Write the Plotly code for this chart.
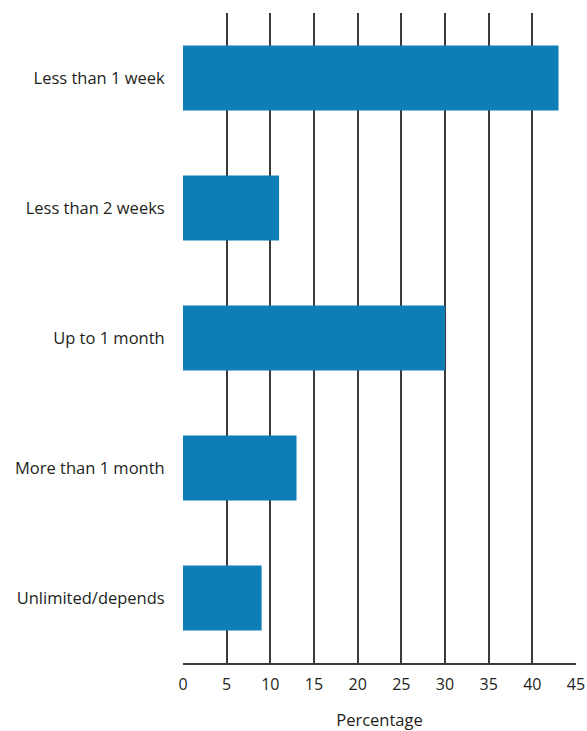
import plotly.graph_objects as go

categories = ["Less than 1 week", "Less than 2 weeks", "Up to 1 month", "More than 1 month", "Unlimited/depends"]
values = [43, 11, 30, 13, 9]
tick_vals = [0, 5, 10, 15, 20, 25, 30, 35, 40, 45]

fig = go.Figure(go.Bar(
    y=categories, x=values, orientation="h",
    marker=dict(color="#0E7EB8", line=dict(width=0)),
    width=0.5,
))

fig.update_layout(
    width=587, height=731,
    margin=dict(l=183, r=11, t=13, b=68),
    paper_bgcolor="white", plot_bgcolor="white",
    showlegend=False,
    font=dict(family="Open Sans", size=16.5, color="#231F20"),
    xaxis=dict(
        range=[0, 45], tickvals=tick_vals, showgrid=True, automargin=False,
        gridcolor="#3a3a3a", gridwidth=1.5,
        showline=True, linecolor="#3a3a3a", linewidth=1.5,
        zeroline=False, ticks="outside", ticklen=6, tickcolor="rgba(0,0,0,0)",
        title=dict(text="Percentage", font=dict(size=16.5), standoff=24),
        tickfont=dict(size=16),
    ),
    yaxis=dict(
        categoryorder="array", categoryarray=categories, autorange="reversed",
        range=[4.5, -0.5], automargin=False,
        showgrid=False, zeroline=False, showline=False,
        ticks="outside", ticklen=14, tickcolor="rgba(0,0,0,0)",
        tickfont=dict(size=16.5),
    ),
)

fig.write_html("out.html", config={"displayModeBar": False},
               post_script="document.body.style.margin='0';document.body.style.overflow='hidden';")
